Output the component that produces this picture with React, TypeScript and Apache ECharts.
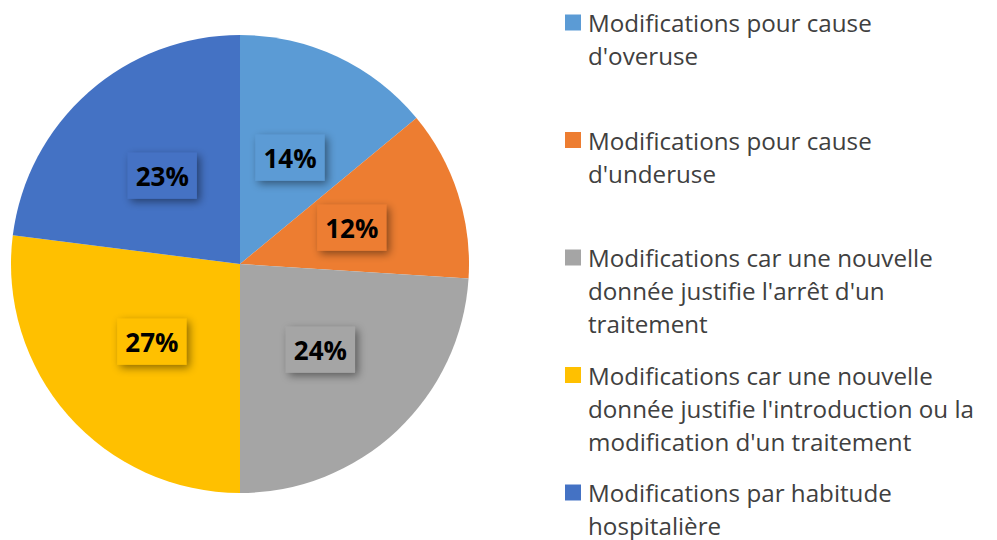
import React, { useEffect, useRef } from "react";
import * as echarts from "echarts";

const categories = [
  "Modifications pour cause d'overuse",
  "Modifications pour cause d'underuse",
  "Modifications car une nouvelle donnée justifie l'arrêt d'un traitement",
  "Modifications car une nouvelle donnée justifie l'introduction ou la modification d'un traitement",
  "Modifications par habitude hospitalière",
];
const legendLines = [
  ["Modifications pour cause", "d'overuse"],
  ["Modifications pour cause", "d'underuse"],
  ["Modifications car une nouvelle", "donnée justifie l'arrêt d'un", "traitement"],
  ["Modifications car une nouvelle", "donnée justifie l'introduction ou la", "modification d'un traitement"],
  ["Modifications par habitude", "hospitalière"],
];
const values = [14, 12, 24, 27, 23];
const colors = ["#5B9BD5", "#ED7D31", "#A5A5A5", "#FFC000", "#4472C4"];

export default function App() {
  const ref = useRef<HTMLDivElement>(null);
  useEffect(() => {
    if (!ref.current) return;
    const chart = echarts.init(ref.current, null, { renderer: "svg" });
    const legendX = 565;
    const legendTop = 22.5;
    const legendStep = 117.5;
    const lineH = 33.2;
    const graphic: any[] = [];
    legendLines.forEach((lines, i) => {
      const cy = legendTop + i * legendStep;
      graphic.push({
        type: "rect",
        shape: { x: legendX, y: cy - 8, width: 16, height: 16 },
        style: { fill: colors[i] },
      });
      lines.forEach((line, j) => {
        graphic.push({
          type: "text",
          x: legendX + 23,
          y: cy + j * lineH,
          style: {
            text: line,
            fontFamily: "'Open Sans'",
            fontSize: 24.2,
            lineHeight: 24,
            fill: "#404040",
            verticalAlign: "middle",
            align: "left",
          },
        });
      });
    });
    chart.setOption({
      animation: false,
      backgroundColor: "#ffffff",
      graphic,
      series: [
        {
          type: "pie",
          center: [240, 264],
          radius: [0, 229],
          startAngle: 90,
          clockwise: true,
          silent: true,
          data: categories.map((name, i) => ({
            name,
            value: values[i],
            itemStyle: { color: colors[i] },
            label: { backgroundColor: colors[i] },
          })),
          itemStyle: { borderWidth: 0 },
          label: {
            show: true,
            position: "inside",
            formatter: (p: any) => p.value + "%",
            fontFamily: "'Open Sans'",
            fontWeight: "bold",
            fontSize: 26,
            color: "#000000",
            padding: [9, 8, 7, 8],
            lineHeight: 30,
            shadowColor: "rgba(0,0,0,0.45)",
            shadowBlur: 8,
            shadowOffsetX: 3,
            shadowOffsetY: 3,
          },
          labelLine: { show: false },
        },
      ],
    });
    return () => chart.dispose();
  }, []);
  return (
    <div
      ref={ref}
      style={{ position: "fixed", left: 0, top: 0, width: 997, height: 540 }}
    />
  );
}
